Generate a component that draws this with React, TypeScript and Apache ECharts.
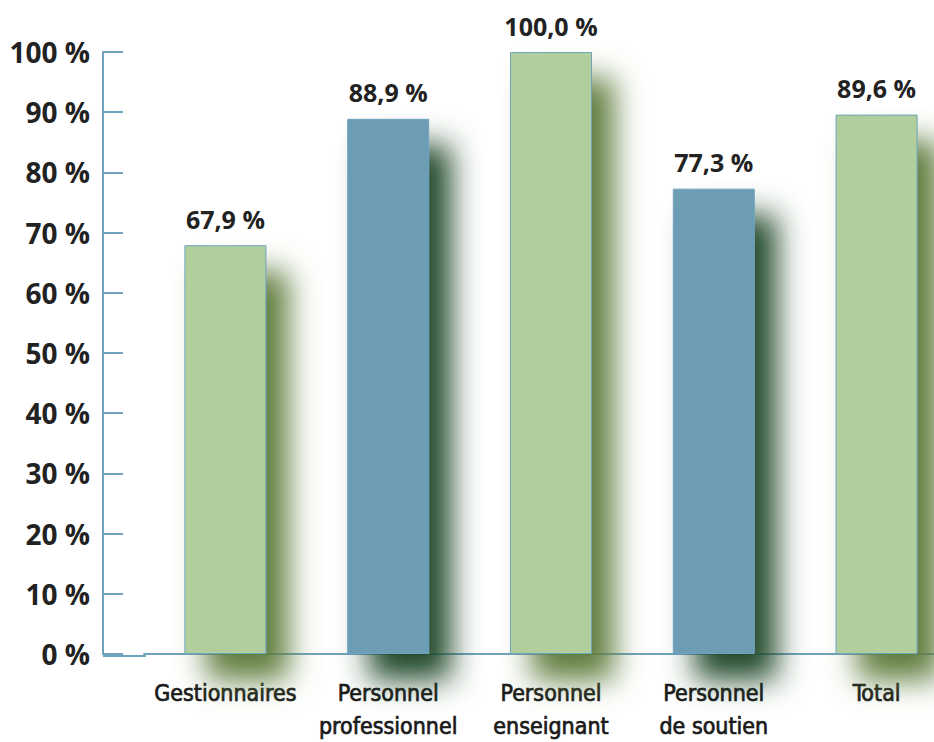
import React, { useEffect, useRef } from "react";
import * as echarts from "echarts";

const categories = [
  "Gestionnaires",
  "Personnel\nprofessionnel",
  "Personnel\nenseignant",
  "Personnel\nde soutien",
  "Total",
];
const values = [67.9, 88.9, 100.0, 77.3, 89.6];
const yTicks = [0, 10, 20, 30, 40, 50, 60, 70, 80, 90, 100];

const GREEN = "#b0cf9c";
const BLUE = "#6d9db5";
const AXIS = "#6fa3bd";
const barColors = [GREEN, BLUE, GREEN, BLUE, GREEN];
const shadowColors = [
  "rgba(95,125,60,1)",
  "rgba(32,72,42,1)",
  "rgba(95,125,60,1)",
  "rgba(32,72,42,1)",
  "rgba(95,125,60,1)",
];

const CHART_W = 958;
const CHART_H = 742;
const GRID_LEFT = 144;
const GRID_TOP = 52;
const GRID_BOTTOM = 86;
const AXIS_X = 103;

export default function App() {
  const ref = useRef<HTMLDivElement>(null);
  useEffect(() => {
    if (!ref.current) return;
    const chart = echarts.init(ref.current, undefined, { renderer: "svg" });
    const baseY = CHART_H - GRID_BOTTOM;
    chart.setOption({
      animation: false,
      backgroundColor: "#ffffff",
      grid: { left: GRID_LEFT, top: GRID_TOP, bottom: GRID_BOTTOM, right: 0 },
      xAxis: {
        type: "category",
        data: categories,
        axisLine: { show: true, lineStyle: { color: AXIS, width: 2 } },
        axisTick: { show: false },
        axisLabel: {
          margin: 22,
          color: "#1a1a1a",
          fontSize: 23,
          lineHeight: 33,
          textBorderColor: "#1a1a1a",
          textBorderWidth: 0.7,
          fontFamily: "'DejaVu Sans Condensed', sans-serif",
          interval: 0,
        },
      },
      yAxis: {
        type: "value",
        min: 0,
        max: 100,
        interval: 10,
        offset: GRID_LEFT - AXIS_X,
        axisLine: { show: true, lineStyle: { color: AXIS, width: 2 } },
        axisTick: { show: true, inside: true, length: 20, lineStyle: { color: AXIS, width: 2 } },
        splitLine: { show: false },
        axisLabel: {
          margin: 13,
          color: "#222",
          fontSize: 28,
          fontWeight: "bold",
          fontFamily: "'Open Sans', 'Noto Sans', sans-serif",
          formatter: (v: number) => (yTicks.includes(v) ? `${v} %` : ""),
        },
      },
      series: [
        {
          type: "bar",
          barWidth: 82,
          data: values.map((v, i) => ({
            value: v,
            itemStyle: {
              color: barColors[i],
              borderColor: AXIS,
              borderWidth: 1,
              shadowBlur: 30,
              shadowOffsetX: 22,
              shadowOffsetY: 26,
              shadowColor: shadowColors[i],
            },
          })),
          label: {
            show: true,
            position: "top",
            distance: 14,
            color: "#222",
            fontSize: 25,
            fontWeight: "bold",
            fontFamily: "'Open Sans', 'Noto Sans', sans-serif",
            formatter: (p: any) => `${p.value.toFixed(1).replace(".", ",")} %`,
          },
        },
      ],
      graphic: [
        {
          type: "line",
          shape: { x1: AXIS_X, y1: baseY, x2: GRID_LEFT + 2, y2: baseY },
          style: { stroke: AXIS, lineWidth: 2 },
          z: 100,
        },
      ],
    });
    return () => chart.dispose();
  }, []);
  return (
    <div style={{ width: 934, height: 742, position: "absolute", left: 0, top: 0, overflow: "hidden" }}>
      <div ref={ref} style={{ width: CHART_W, height: CHART_H }} />
    </div>
  );
}
